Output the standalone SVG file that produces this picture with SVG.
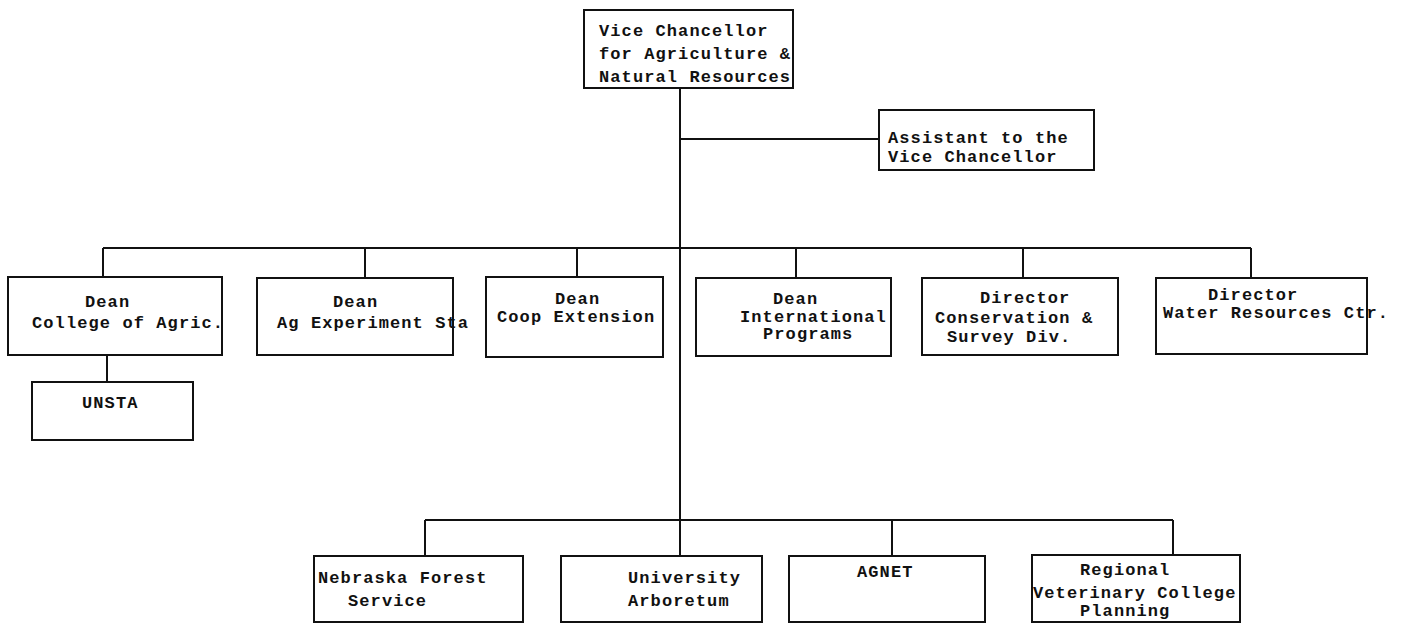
<svg xmlns="http://www.w3.org/2000/svg" width="1408" height="625" viewBox="0 0 1408 625">
<style>
.box{fill:#fff;stroke:#111;stroke-width:2}
.ln{fill:none;stroke:#111;stroke-width:2}
text{font-family:"Liberation Mono","DejaVu Sans Mono",monospace;font-size:17px;letter-spacing:1.1px;font-weight:bold;fill:#111}
</style>
<rect width="1408" height="625" fill="#fff"/>
<g id="connectors">
<path class="ln" d="M680 88V556"/>
<path class="ln" d="M680 139H879"/>
<path class="ln" d="M103 248H1251M103 248V278M365 248V278M577 248V277M796 248V278M1023 248V278M1251 248V278"/>
<path class="ln" d="M107 355V382"/>
<path class="ln" d="M425 520H1173M425 520V556M892 520V556M1173 520V555"/>
</g>
<g id="vc">
<rect class="box" x="584" y="10" width="209" height="78"/>
<text x="599" y="36">Vice Chancellor</text>
<text x="599" y="59">for Agriculture &amp;</text>
<text x="599" y="82">Natural Resources</text>
</g>
<g id="assistant">
<rect class="box" x="879" y="110" width="215" height="60"/>
<text x="888" y="143">Assistant to the</text>
<text x="888" y="162">Vice Chancellor</text>
</g>
<g id="dean-college">
<rect class="box" x="8" y="277" width="214" height="78"/>
<text x="85" y="307">Dean</text>
<text x="32" y="328">College of Agric.</text>
</g>
<g id="unsta">
<rect class="box" x="32" y="382" width="161" height="58"/>
<text x="82" y="408">UNSTA</text>
</g>
<g id="dean-ag">
<rect class="box" x="257" y="278" width="196" height="77"/>
<text x="333" y="307">Dean</text>
<text x="277" y="328">Ag Experiment Sta</text>
</g>
<g id="dean-coop">
<rect class="box" x="486" y="277" width="177" height="80"/>
<text x="555" y="304">Dean</text>
<text x="497" y="322">Coop Extension</text>
</g>
<g id="dean-intl">
<rect class="box" x="696" y="278" width="195" height="78"/>
<text x="773" y="304">Dean</text>
<text x="740" y="322">International</text>
<text x="763" y="339">Programs</text>
</g>
<g id="dir-conservation">
<rect class="box" x="922" y="278" width="196" height="77"/>
<text x="980" y="303">Director</text>
<text x="935" y="323">Conservation &amp;</text>
<text x="947" y="342">Survey Div.</text>
</g>
<g id="dir-water">
<rect class="box" x="1156" y="278" width="211" height="76"/>
<text x="1208" y="300">Director</text>
<text x="1163" y="318">Water Resources Ctr.</text>
</g>
<g id="forest">
<rect class="box" x="314" y="556" width="209" height="66"/>
<text x="318" y="583">Nebraska Forest</text>
<text x="348" y="606">Service</text>
</g>
<g id="arboretum">
<rect class="box" x="561" y="556" width="201" height="66"/>
<text x="628" y="583">University</text>
<text x="628" y="606">Arboretum</text>
</g>
<g id="agnet">
<rect class="box" x="789" y="556" width="196" height="66"/>
<text x="857" y="577">AGNET</text>
</g>
<g id="vet">
<rect class="box" x="1032" y="555" width="208" height="67"/>
<text x="1080" y="575">Regional</text>
<text x="1033" y="598">Veterinary College</text>
<text x="1080" y="616">Planning</text>
</g>
</svg>
